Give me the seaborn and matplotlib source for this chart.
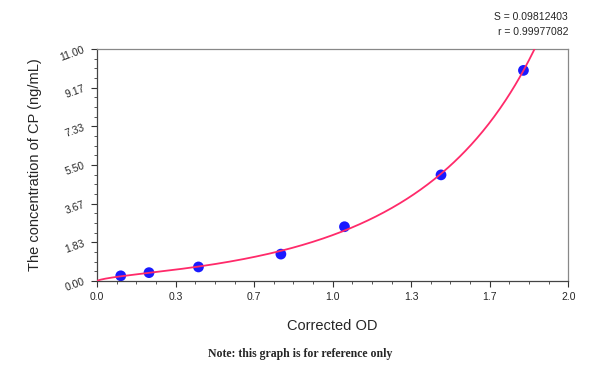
import numpy             as np
import pandas            as pd
import matplotlib
matplotlib.use('Agg')
import matplotlib.pyplot as plt
import seaborn           as sns
from matplotlib.ticker import MultipleLocator, FixedLocator

# standard points
od   = [0.10, 0.22, 0.43, 0.78, 1.05, 1.46, 1.81]
conc = [0.24, 0.39, 0.66, 1.27, 2.57, 5.03, 9.99]

x_ticks  = [0.0, 1/3, 2/3, 1.0, 4/3, 5/3, 2.0]
x_labels = ['0.0', '0.3', '0.7', '1.0', '1.3', '1.7', '2.0']
y_ticks  = [0.0, 11/6, 11/3, 5.5, 22/3, 55/6, 11.0]
y_labels = ['0.00', '1.83', '3.67', '5.50', '7.33', '9.17', '11.00']

sns.set_style('ticks')
plt.rcParams['font.family'] = ['Liberation Sans', 'DejaVu Sans']

df = pd.DataFrame({'od': od, 'conc': conc})

# standard curve: y = a*x + c*(x/(d-x))**p, grid over d, p; a, c by least squares
X, Y = np.array(od), np.array(conc)
best = None
for d in np.arange(1.9, 4.0, 0.01):
    for p in np.arange(0.8, 3.0, 0.02):
        A = np.column_stack([X, (X / (d - X))**p])
        sol, *_ = np.linalg.lstsq(A, Y, rcond = None)
        err = np.sum((A @ sol - Y)**2)
        if best is None or err < best[0]:
            best = (err, d, p, sol)
_, d, p, (a, c) = best
xx  = np.linspace(0, min(1.95, d - 0.01), 400)
fit = pd.DataFrame({'od': xx, 'conc': a * xx + c * (xx / (d - xx))**p})

fig = plt.figure(figsize = (6, 3.72), dpi = 100)
ax  = fig.add_axes([0.162, 0.245, 0.785, 0.623])

sns.scatterplot(data = df, x = 'od', y = 'conc', ax = ax, s = 60,
                color = '#1a1aff', edgecolor = 'none', zorder = 2)
sns.lineplot(data = fit, x = 'od', y = 'conc', ax = ax, color = '#ff2a6a',
             linewidth = 1.3, zorder = 3)

ax.set_xlim(0, 2.0)
ax.set_ylim(0, 11.0)
ax.xaxis.set_major_locator(FixedLocator(x_ticks))
ax.set_xticklabels(x_labels, fontsize = 7.5)
ax.xaxis.set_minor_locator(MultipleLocator(1/12))
ax.yaxis.set_major_locator(FixedLocator(y_ticks))
ax.set_yticklabels(y_labels, fontsize = 7.5, rotation = 20)
ax.yaxis.set_minor_locator(MultipleLocator(11/24))
ax.tick_params(which = 'major', length = 4, width = 0.8, color = '#333333', pad = 4)
ax.tick_params(which = 'minor', length = 2.5, width = 0.7, color = '#555555')

for s in ['top', 'right']:
    ax.spines[s].set_visible(True)
    ax.spines[s].set_color('#888888')
    ax.spines[s].set_linewidth(0.9)
for s in ['left', 'bottom']:
    ax.spines[s].set_color('#444444')
    ax.spines[s].set_linewidth(0.9)

ax.set_xlabel('Corrected OD', fontsize = 10.5, labelpad = 12)
ax.set_ylabel('The concentration of CP (ng/mL)', fontsize = 10.5, labelpad = 12)

fig.text(0.947, 0.953, 'S = 0.09812403', ha = 'right', va = 'center', fontsize = 7.5)
fig.text(0.947, 0.915, 'r = 0.99977082', ha = 'right', va = 'center', fontsize = 7.5)
fig.text(0.5, 0.048, 'Note: this graph is for reference only', ha = 'center', va = 'center',
         fontsize = 8.5, fontweight = 'bold', family = ['Liberation Serif', 'DejaVu Serif'])

fig.savefig('out.png', dpi = 100)
